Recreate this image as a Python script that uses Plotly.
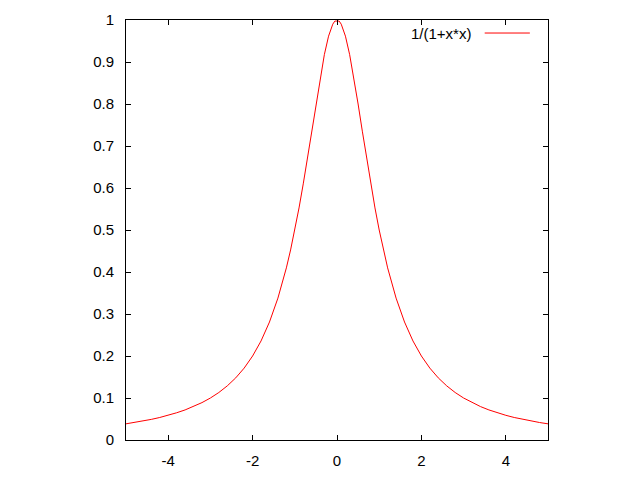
import plotly.graph_objects as go

x_vals = [-5.0, -4.8, -4.6, -4.4, -4.2, -4.0, -3.8, -3.6, -3.4, -3.2, -3.0,
          -2.8, -2.6, -2.4, -2.2, -2.0, -1.8, -1.6, -1.4, -1.2, -1.1, -1.0,
          -0.9, -0.8, -0.7, -0.6, -0.5, -0.4, -0.3, -0.2, -0.1, -0.05,
          0.05, 0.1, 0.2, 0.3, 0.4, 0.5, 0.6, 0.7, 0.8, 0.9,
          1.0, 1.1, 1.2, 1.4, 1.6, 1.8, 2.0, 2.2, 2.4, 2.6, 2.8, 3.0,
          3.2, 3.4, 3.6, 3.8, 4.0, 4.2, 4.4, 4.6, 4.8, 5.0]
y_vals = [0.0385, 0.0416, 0.0451, 0.0491, 0.0536, 0.0588, 0.0648, 0.0716, 0.0796, 0.0890, 0.1000,
          0.1131, 0.1289, 0.1479, 0.1712, 0.2000, 0.2358, 0.2809, 0.3378, 0.4098, 0.4525, 0.5000,
          0.5525, 0.6098, 0.6711, 0.7353, 0.8000, 0.8621, 0.9174, 0.9615, 0.9901, 0.9975,
          0.9975, 0.9901, 0.9615, 0.9174, 0.8621, 0.8000, 0.7353, 0.6711, 0.6098, 0.5525,
          0.5000, 0.4525, 0.4098, 0.3378, 0.2809, 0.2358, 0.2000, 0.1712, 0.1479, 0.1289, 0.1131, 0.1000,
          0.0890, 0.0796, 0.0716, 0.0648, 0.0588, 0.0536, 0.0491, 0.0451, 0.0416, 0.0385]
series_name = "1/(1+x*x)"
x_ticks = [-4, -2, 0, 2, 4]
x_tick_labels = ["-4", "-2", "0", "2", "4"]
y_ticks = [0, 0.1, 0.2, 0.3, 0.4, 0.5, 0.6, 0.7, 0.8, 0.9, 1]
y_tick_labels = ["0", "0.1", "0.2", "0.3", "0.4", "0.5", "0.6", "0.7", "0.8", "0.9", "1"]

fig = go.Figure()
fig.add_trace(go.Scatter(x=x_vals, y=y_vals, mode="lines", name=series_name,
                         line=dict(color="#ff0000", width=1), showlegend=False))

font = dict(family="Liberation Sans, Arial, sans-serif", size=15, color="#000000")
axis_common = dict(showline=True, linecolor="#000000", linewidth=1, mirror="allticks",
                   ticks="inside", ticklen=5, tickcolor="#000000", tickwidth=1,
                   showgrid=False, zeroline=False, tickfont=font, automargin=False)
fig.update_xaxes(range=[-5, 5], tickvals=x_ticks, ticktext=x_tick_labels,
                 ticklabelstandoff=7, **axis_common)
fig.update_yaxes(range=[0, 1], tickvals=y_ticks, ticktext=y_tick_labels,
                 ticklabelstandoff=8, **axis_common)

# gnuplot-style key: text then line sample at top right
fig.add_annotation(xref="paper", yref="paper", x=0.823, y=0.969, text=series_name,
                   showarrow=False, xanchor="right", yanchor="middle", font=font)
fig.add_shape(type="line", xref="paper", yref="paper", x0=0.850, x1=0.957, y0=0.969, y1=0.969,
              line=dict(color="#ff0000", width=1))

fig.update_layout(width=640, height=480, margin=dict(l=118, r=100, t=12, b=48),
                  plot_bgcolor="#ffffff", paper_bgcolor="#ffffff", font=font)
fig.write_html("out.html")
